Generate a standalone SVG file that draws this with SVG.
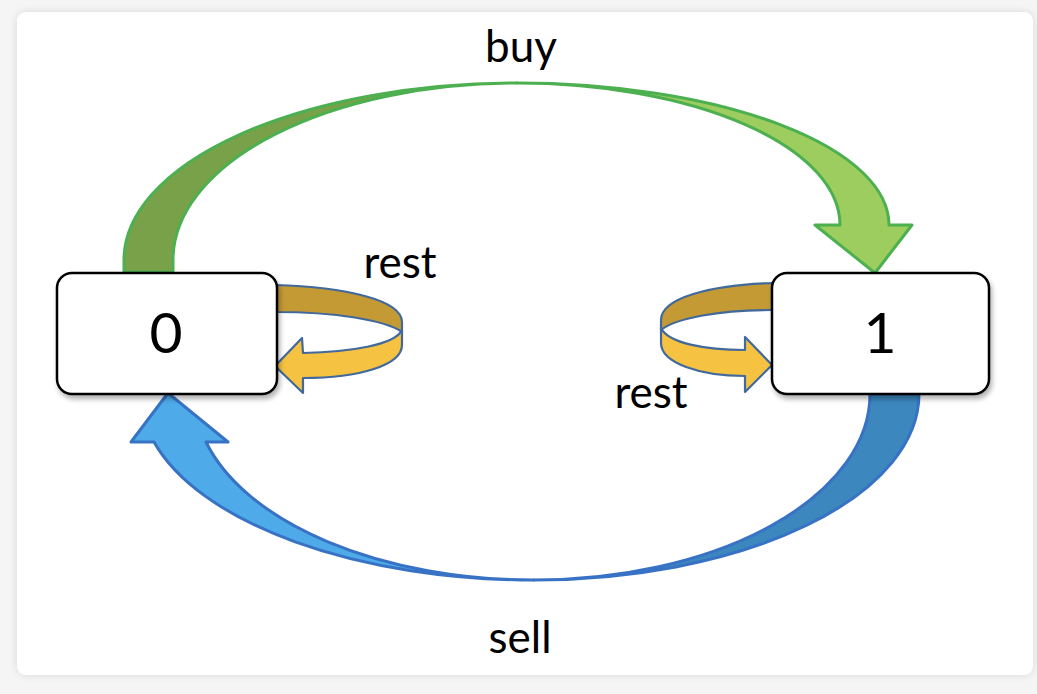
<svg xmlns="http://www.w3.org/2000/svg" width="1037" height="694" viewBox="0 0 1037 694">
  <defs>
    <filter id="cardShadow" x="-5%" y="-5%" width="110%" height="110%">
      <feGaussianBlur in="SourceAlpha" stdDeviation="4"/>
      <feComponentTransfer><feFuncA type="linear" slope="0.12"/></feComponentTransfer>
      <feMerge><feMergeNode/><feMergeNode in="SourceGraphic"/></feMerge>
    </filter>
    <filter id="boxShadow" x="-10%" y="-10%" width="125%" height="130%">
      <feGaussianBlur in="SourceAlpha" stdDeviation="2.5"/>
      <feOffset dx="2" dy="4"/>
      <feComponentTransfer><feFuncA type="linear" slope="0.3"/></feComponentTransfer>
      <feMerge><feMergeNode/><feMergeNode in="SourceGraphic"/></feMerge>
    </filter>
    <style>
      .state { fill: #ffffff; stroke: #000000; stroke-width: 2.5; }
      .num { font-family: Lato, "Liberation Sans", sans-serif; font-size: 57px; fill: #000; text-anchor: middle; }
      .lbl { font-family: Lato, "Liberation Sans", sans-serif; font-size: 44px; fill: #000; text-anchor: middle; }
      .g-stroke { stroke: #4db050; stroke-width: 3; stroke-linejoin: round; }
      .b-stroke { stroke: #3872c4; stroke-width: 3; stroke-linejoin: round; }
      .y-stroke { stroke: #41699b; stroke-width: 2.2; stroke-linejoin: round; }
    </style>
  </defs>

  <!-- page and card -->
  <rect x="0" y="0" width="1037" height="694" fill="#f5f5f5"/>
  <rect x="17" y="12" width="1016" height="663" rx="9" fill="#ffffff" filter="url(#cardShadow)"/>

  <!-- connectors -->
  <g id="connectors">
    <!-- buy: 0 -> 1 -->
    <g id="edge-buy">
      <path class="g-stroke" fill="#79a14a" d="M124,272 L124,260 A393,177 0 0 1 517,83 A344,177 0 0 0 173,260 L173,272 Z"/>
      <path class="g-stroke" fill="#9ccd5e" d="M517,83 A372,142 0 0 1 889,225 L912,225 L875,273 L815,225 L840,225 A323,142 0 0 0 517,83 Z"/>
    </g>
    <!-- sell: 1 -> 0 -->
    <g id="edge-sell">
      <path class="b-stroke" fill="#3b87be" d="M919,394 A385,186 0 0 1 534,580 A336,186 0 0 0 870,394 Z"/>
      <path class="b-stroke" fill="#4eaae8" d="M534,580 A393,186 0 0 1 154,442 L131,442 L168,393 L228,442 L206,442 A339.5,186 0 0 0 534,580 Z"/>
    </g>
    <!-- rest loop on 0 -->
    <g id="edge-rest-0">
      <path class="y-stroke" fill="#c49a35" d="M275,285 C345,287 402,300 402,322 L402,332 C385,320 335,312 275,312 Z"/>
      <path class="y-stroke" fill="#f5c242" d="M402,330 L402,345 C402,365 360,378 303,378 L303,393 L275,366 L302,338 L303,353 C350,352 395,345 402,330 Z"/>
    </g>
    <!-- rest loop on 1 -->
    <g id="edge-rest-1">
      <path class="y-stroke" fill="#c49a35" d="M772,283 C710,285 661,298 661,320 L661,330 C676,318 720,310 772,310 Z"/>
      <path class="y-stroke" fill="#f5c242" d="M661,328 L661,343 C661,363 700,376 745,376 L745,392 L772,365 L745,337 L745,350 C705,350 668,343 661,328 Z"/>
    </g>
  </g>

  <!-- states -->
  <g id="node-0">
    <rect class="state" x="57" y="273" width="220" height="121" rx="15" filter="url(#boxShadow)"/>
    <text class="num" x="166" y="353">0</text>
  </g>
  <g id="node-1">
    <rect class="state" x="772" y="273" width="217" height="121" rx="15" filter="url(#boxShadow)"/>
    <text class="num" x="880" y="353">1</text>
  </g>

  <!-- labels -->
  <g id="labels">
    <text class="lbl" x="521" y="62">buy</text>
    <text class="lbl" x="400" y="278">rest</text>
    <text class="lbl" x="651" y="408">rest</text>
    <text class="lbl" x="520" y="653">sell</text>
  </g>
</svg>
